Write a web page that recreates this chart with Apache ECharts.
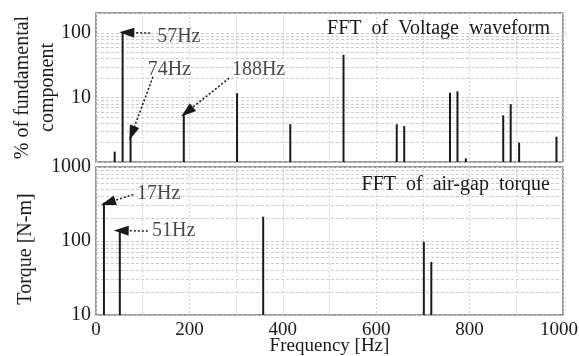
<!DOCTYPE html>
<html style="height: 100%;">
<head>
<meta charset="utf-8">
<title>FFT spectra</title>
<script src="https://cdn.jsdelivr.net/npm/echarts@6/dist/echarts.min.js"></script>
<style>
    html, body { margin: 0; height: 100%; background: #fff; }
    #container { width: 579px; height: 356px; }
</style>
</head>
<body>
<div id="container"></div>
<script>
// voltage spectrum (% of fundamental)
var voltFreq = [40, 57, 74, 188, 302, 416, 530, 644, 660, 758, 774, 792, 872, 888, 906, 986];
var voltPct  = [1.45, 100, 2.45, 5.4, 11.7, 3.85, 46, 3.85, 3.6, 11.9, 12.5, 1.14, 5.3, 7.9, 2.0, 2.47];
// air-gap torque spectrum (N-m)
var torqFreq = [17, 51, 358, 702, 718];
var torqVal  = [330, 138, 213, 98, 52];

// minor log grid lines
var voltMinor = [2, 3, 4, 5, 6, 7, 8, 9, 20, 30, 40, 50, 60, 70, 80, 90];
var torqMinor = [20, 30, 40, 50, 60, 70, 80, 90, 200, 300, 400, 500, 600, 700, 800, 900];

// annotations: label, text position, arrow tail, arrow head
var voltNotes = [
    { text: '57Hz',  at: [131, 87],  from: [116, 100], to: [66, 102] },
    { text: '74Hz',  at: [111, 27],  from: [122, 21],  to: [77, 2.8] },
    { text: '188Hz', at: [291, 27],  from: [285, 20],  to: [195, 6.0] }
];
var torqNotes = [
    { text: '17Hz', at: [88, 430],  from: [80, 425],  to: [26, 330] },
    { text: '51Hz', at: [120, 136], from: [111, 136], to: [54, 138] }
];

var serif = '"Liberation Serif", "DejaVu Serif", serif';
var ink = '#1a1a1a';
var fs = 20;

function isDecade(v) {
    var l = Math.log10(v);
    return Math.abs(l - Math.round(l)) < 1e-6;
}

function spikes(freq, vals, base, idx) {
    var data = [];
    for (var i = 0; i < freq.length; i++) data.push([freq[i], vals[i]]);
    return {
        type: 'custom',
        xAxisIndex: idx, yAxisIndex: idx,
        data: data,
        renderItem: function (params, api) {
            var p0 = api.coord([api.value(0), base]);
            var p1 = api.coord([api.value(0), api.value(1)]);
            return {
                type: 'line',
                shape: { x1: p0[0], y1: p0[1], x2: p1[0], y2: p1[1] },
                style: { stroke: ink, lineWidth: 2 }
            };
        },
        z: 5
    };
}

function gridLines(minor, idx) {
    return {
        type: 'line', xAxisIndex: idx, yAxisIndex: idx, data: [],
        markLine: {
            silent: true, symbol: 'none', label: { show: false },
            lineStyle: { color: '#cccccc', type: [3, 2], width: 1 },
            data: minor.map(function (v) { return { yAxis: v }; })
        },
        z: 1
    };
}

function notes(list, idx) {
    return {
        type: 'scatter', xAxisIndex: idx, yAxisIndex: idx,
        symbolSize: 0,
        data: list.map(function (n) { return { name: n.text, value: n.at }; }),
        label: {
            show: true, position: 'right', distance: 0,
            formatter: '{b}', fontFamily: serif, fontSize: fs, color: ink
        },
        markLine: {
            silent: true,
            symbol: ['none', 'triangle'],
            symbolSize: [10, 15],
            label: { show: false },
            lineStyle: { color: ink, type: [2, 2], width: 1.5 },
            data: list.map(function (n) { return [{ coord: n.from }, { coord: n.to }]; })
        },
        z: 6
    };
}

var xCommon = {
    type: 'value', min: 0, max: 1000, interval: 100,
    axisLine: { show: false }, axisTick: { show: false },
    splitLine: { show: true, lineStyle: { color: '#d2d2d2', type: [2, 2] } }
};

var option = {
    animation: false,
    title: [
        { text: 'FFT  of  Voltage  waveform', right: 24, top: 14,
          textStyle: { fontFamily: serif, fontSize: fs, fontWeight: 'normal', color: ink } },
        { text: 'FFT  of  air-gap  torque', right: 24, top: 170,
          textStyle: { fontFamily: serif, fontSize: fs, fontWeight: 'normal', color: ink } }
    ],
    grid: [
        { left: 96, right: 16, top: 13, height: 149, show: true, outerBoundsMode: 'none',
          borderColor: '#7a7a7a', borderWidth: 1.5, backgroundColor: 'transparent' },
        { left: 96, right: 16, top: 167, height: 148, show: true, outerBoundsMode: 'none',
          borderColor: '#7a7a7a', borderWidth: 1.5, backgroundColor: 'transparent' }
    ],
    xAxis: [
        Object.assign({}, xCommon, { gridIndex: 0, axisLabel: { show: false } }),
        Object.assign({}, xCommon, {
            gridIndex: 1,
            name: 'Frequency [Hz]', nameLocation: 'middle', nameGap: 22, nameMoveOverlap: false,
            nameTextStyle: { fontFamily: serif, fontSize: 19, color: ink },
            axisLabel: {
                fontFamily: serif, fontSize: 19, color: ink, margin: 6,
                rich: { last: { fontFamily: serif, fontSize: 19, color: ink, padding: [0, 8, 0, 0] } },
                formatter: function (v) {
                    if (v === 1000) return '{last|1000}';
                    return v % 200 === 0 ? v : '';
                }
            }
        })
    ],
    yAxis: [
        { type: 'log', logBase: 10, gridIndex: 0, min: 1, max: 205,
          name: '% of fundamental\ncomponent', nameLocation: 'middle', nameGap: 36, nameMoveOverlap: false,
          nameTextStyle: { fontFamily: serif, fontSize: 20, color: ink, lineHeight: 25 },
          axisLine: { show: false }, axisTick: { show: false },
          axisLabel: { fontFamily: serif, fontSize: fs, color: ink, margin: 5,
                       formatter: function (v) { return (v > 1.5 && isDecade(v)) ? Math.round(v) : ''; } },
          splitLine: { show: true, lineStyle: { color: '#cccccc', type: [3, 2] } } },
        { type: 'log', logBase: 10, gridIndex: 1, min: 10, max: 1000,
          name: 'Torque [N-m]', nameLocation: 'middle', nameGap: 60,
          nameTextStyle: { fontFamily: serif, fontSize: fs, color: ink, padding: [0, 16, 0, 0] },
          axisLine: { show: false }, axisTick: { show: false },
          axisLabel: { fontFamily: serif, fontSize: fs, color: ink, margin: 5,
                       formatter: function (v) { return isDecade(v) ? Math.round(v) : ''; } },
          splitLine: { show: true, lineStyle: { color: '#cccccc', type: [3, 2] } } }
    ],
    series: [
        gridLines(voltMinor, 0),
        gridLines(torqMinor, 1),
        spikes(voltFreq, voltPct, 1, 0),
        spikes(torqFreq, torqVal, 10, 1),
        notes(voltNotes, 0),
        notes(torqNotes, 1)
    ]
};

var myChart = echarts.init(document.getElementById('container'));
myChart.setOption(option);
</script>
</body>
</html>
